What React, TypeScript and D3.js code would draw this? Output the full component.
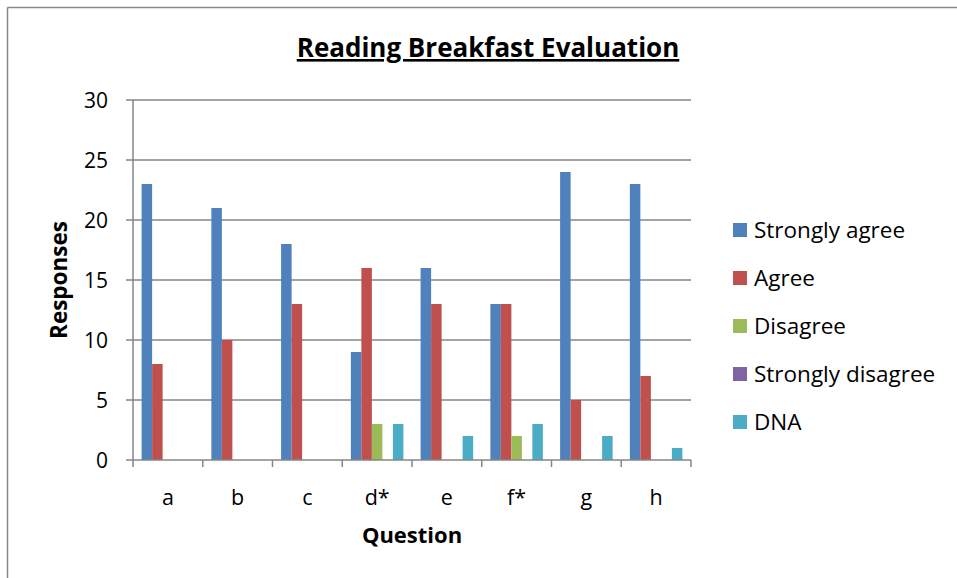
import React from "react";
import * as d3 from "d3";

const categories = ["a", "b", "c", "d*", "e", "f*", "g", "h"];
const seriesNames = ["Strongly agree", "Agree", "Disagree", "Strongly disagree", "DNA"];
const stronglyAgree = [23, 21, 18, 9, 16, 13, 24, 23];
const agree = [8, 10, 13, 16, 13, 13, 5, 7];
const disagree = [0, 0, 0, 3, 0, 2, 0, 0];
const stronglyDisagree = [0, 0, 0, 0, 0, 0, 0, 0];
const dna = [0, 0, 0, 3, 2, 3, 2, 1];
const yTicks = [0, 5, 10, 15, 20, 25, 30];
const colors = ["#4F81BD", "#C0504D", "#9BBB59", "#8064A2", "#4BACC6"];

const seriesValues = [stronglyAgree, agree, disagree, stronglyDisagree, dna];

export default function App() {
  const W = 957, H = 578;
  const left = 133, right = 691, top = 100, bottom = 460;
  const font = "'Open Sans', Lato, sans-serif";
  const x = d3.scaleBand<string>().domain(categories).range([left, right]).paddingInner(0).paddingOuter(0);
  const catW = x.bandwidth();
  const barW = catW / (5 + 1.64);
  const gap = (catW - barW * 5) / 2;
  const xs = d3.scaleBand<string>().domain(seriesNames).range([gap, gap + barW * 5]);
  const y = d3.scaleLinear().domain([0, 30]).range([bottom, top]);
  const axisColor = "#868686";

  return (
    <svg width={W} height={H} style={{ position: "absolute", left: 0, top: 0, background: "#fff" }} fontFamily={font}>
      <rect x={0} y={0} width={W} height={H} fill="#fff" />
      {/* outer frame */}
      <line x1={7.5} y1={7.5} x2={W + 5} y2={7.5} stroke="#868686" strokeWidth={1.5} />
      <line x1={7.5} y1={7.5} x2={7.5} y2={H + 5} stroke="#868686" strokeWidth={1.5} />
      {/* title */}
      <text x={488} y={57} textAnchor="middle" fontSize={26} fontWeight="bold" textDecoration="underline" fill="#000">
        Reading Breakfast Evaluation
      </text>
      {/* gridlines */}
      {yTicks.map((t) => (
        <g key={t}>
          {t > 0 && <line x1={left} x2={right} y1={y(t)} y2={y(t)} stroke={axisColor} strokeWidth={1.5} />}
          <line x1={left - 7} x2={left} y1={y(t)} y2={y(t)} stroke={axisColor} strokeWidth={1.5} />
          <text x={108} y={y(t) + 7.5} textAnchor="end" fontSize={21} fill="#000">{t}</text>
        </g>
      ))}
      {/* bars */}
      {categories.map((c, ci) =>
        seriesNames.map((s, si) => {
          const v = seriesValues[si][ci];
          if (!v) return null;
          return (
            <rect key={c + s} x={(x(c) as number) + (xs(s) as number)} y={y(v)} width={xs.bandwidth()} height={y(0) - y(v)} fill={colors[si]} />
          );
        })
      )}
      {/* axes */}
      <line x1={left} x2={left} y1={top} y2={bottom} stroke={axisColor} strokeWidth={1.5} />
      <line x1={left} x2={right} y1={bottom} y2={bottom} stroke={axisColor} strokeWidth={1.5} />
      {[...categories.map((c) => x(c) as number), right].map((px, i) => (
        <line key={i} x1={px} x2={px} y1={bottom} y2={bottom + 7} stroke={axisColor} strokeWidth={1.5} />
      ))}
      {categories.map((c) => (
        <text key={c} x={(x(c) as number) + catW / 2} y={505} textAnchor="middle" fontSize={21.5} fill="#000">{c}</text>
      ))}
      <text x={412} y={543} textAnchor="middle" fontSize={22} fontWeight="bold" fill="#000">Question</text>
      <text transform={`translate(67,280) rotate(-90)`} textAnchor="middle" fontSize={22.5} fontWeight="bold" fill="#000">Responses</text>
      {/* legend */}
      {seriesNames.map((s, i) => (
        <g key={s} transform={`translate(733,${223 + i * 48})`}>
          <rect x={0} y={0} width={14} height={14} fill={colors[i]} />
          <text x={21} y={15} fontSize={22.5} fill="#000">{s}</text>
        </g>
      ))}
    </svg>
  );
}
